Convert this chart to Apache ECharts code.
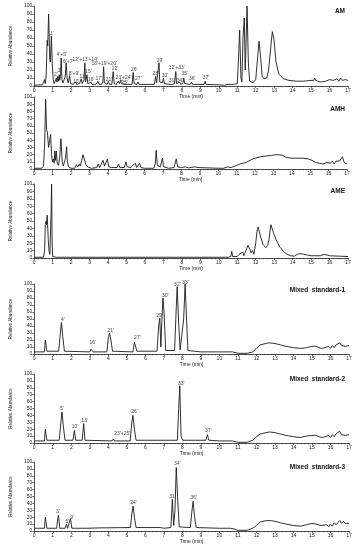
<!DOCTYPE html>
<html><head><meta charset="utf-8">
<script src="https://cdn.jsdelivr.net/npm/echarts@6/dist/echarts.min.js"></script>
<style>html,body{margin:0;padding:0;background:#fff}#c{width:357px;height:550px}</style>
</head><body><div id="c"></div>
<script>
// ---- data: [time (min), relative abundance] ----
const amTrace = [[0,1],[0.45,1.5],[0.52,3],[0.56,8],[0.6,3],[0.65,15],[0.7,57],[0.73,50],[0.78,90],[0.84,35],[0.87,30],[0.93,62],[0.98,25],[1.03,8],[1.08,3],[1.15,4],[1.2,10],[1.23,5],[1.27,12],[1.3,6],[1.35,14],[1.38,7],[1.42,12],[1.46,35],[1.5,8],[1.56,4],[1.62,6],[1.68,12],[1.73,29],[1.78,10],[1.84,4],[1.92,13],[1.97,3],[2.1,2],[2.25,5],[2.3,2],[2.45,3],[2.55,9],[2.6,3],[2.7,8],[2.74,29],[2.78,5],[2.86,14],[2.9,3],[3.0,2],[3.08,5],[3.13,2],[3.35,2],[3.45,6],[3.52,2],[3.65,2],[3.72,5],[3.76,24],[3.8,4],[3.95,2],[4.02,6],[4.08,2],[4.2,2],[4.28,18],[4.33,3],[4.45,2],[4.55,6],[4.62,3],[4.68,8],[4.72,3],[4.85,2],[4.92,4],[4.98,2],[5.3,2],[5.36,17],[5.41,3],[5.55,2],[5.62,5],[5.68,2],[6.5,2],[6.58,12],[6.63,4],[6.7,3],[6.76,29],[6.8,5],[6.95,4],[7.0,10],[7.05,3],[7.35,2],[7.42,4],[7.48,2],[7.6,3],[7.67,18],[7.71,3],[7.8,3],[7.88,5],[7.93,2],[8.05,3],[8.1,10],[8.15,3],[8.45,2],[8.52,5],[8.58,2],[9.2,2],[9.26,6],[9.3,2],[10,1.5],[10.3,1],[10.5,2],[10.8,2],[11.0,3],[11.06,30],[11.13,70],[11.2,10],[11.25,5],[11.31,60],[11.38,85],[11.43,20],[11.46,40],[11.53,100],[11.6,30],[11.67,6],[11.85,4],[12.0,8],[12.1,35],[12.18,56],[12.25,40],[12.35,12],[12.45,9],[12.6,10],[12.7,20],[12.8,45],[12.9,68],[12.98,60],[13.1,30],[13.25,15],[13.5,9],[13.8,7],[14.2,6],[14.6,6],[15.0,7],[15.15,7],[15.2,10],[15.25,7],[15.5,5],[15.8,6],[16.0,8],[16.2,7],[16.4,9],[16.5,6],[16.6,10],[16.7,7],[16.85,8],[17,7]];
const amhTrace = [[0,1],[0.4,1],[0.5,4],[0.56,30],[0.62,97],[0.67,55],[0.72,50],[0.78,30],[0.84,40],[0.89,48],[0.94,20],[0.99,10],[1.04,14],[1.08,8],[1.12,25],[1.16,12],[1.2,25],[1.25,8],[1.32,5],[1.38,15],[1.45,42],[1.52,10],[1.58,4],[1.64,4],[1.7,15],[1.76,31],[1.8,10],[1.87,3],[2.0,1],[2.2,1],[2.3,6],[2.36,3],[2.45,7],[2.5,4],[2.58,12],[2.65,20],[2.72,14],[2.8,6],[2.9,3],[3.1,1],[3.4,2],[3.48,7],[3.55,2],[3.65,3],[3.74,12],[3.82,4],[3.9,3],[3.98,14],[4.05,3],[4.2,2],[4.5,2],[4.58,7],[4.65,2],[4.9,2],[4.98,10],[5.05,3],[5.25,2],[5.35,5],[5.42,3],[5.5,8],[5.56,2],[5.65,2],[5.73,8],[5.8,2],[6.0,1],[6.5,1],[6.58,8],[6.63,26],[6.69,5],[6.85,3],[6.97,15],[7.03,3],[7.3,1],[7.6,2],[7.72,14],[7.8,3],[8.0,2],[8.2,3],[8.4,1.5],[8.7,3],[8.9,2],[9.5,1.5],[10.0,1],[10.3,1],[10.5,3],[10.6,5],[10.7,2],[10.9,4],[11.0,3],[11.2,7],[11.5,9],[11.8,13],[12.0,15],[12.3,17],[12.6,18],[12.9,19],[13.2,20],[13.5,19],[13.7,16],[14.0,15],[14.3,15],[14.6,15],[14.9,14],[15.1,12],[15.3,9],[15.5,8],[15.7,7],[15.9,9],[16.0,11],[16.1,8],[16.2,11],[16.3,7],[16.4,11],[16.5,9],[16.6,11],[16.7,10],[16.75,17],[16.85,9],[17,7]];
const ameTrace = [[0,1],[0.5,1],[0.56,10],[0.6,45],[0.64,50],[0.67,45],[0.7,58],[0.73,60],[0.76,25],[0.8,10],[0.85,5],[0.88,5],[0.91,60],[0.94,100],[0.97,20],[1.0,2],[1.2,1],[1.3,2],[1.35,1],[10.5,1],[10.65,2],[10.7,9],[10.75,2],[11.0,2],[11.1,5],[11.2,3],[11.3,8],[11.35,3],[11.45,4],[11.58,17],[11.68,12],[11.75,7],[11.82,10],[11.9,5],[12.0,20],[12.08,38],[12.13,42],[12.25,30],[12.4,18],[12.55,14],[12.65,17],[12.72,25],[12.82,45],[12.87,46],[12.95,35],[13.1,25],[13.3,15],[13.5,9],[13.7,5],[13.9,3],[14.1,2.5],[14.25,5],[14.4,6],[14.6,5],[14.8,4],[15.0,3],[15.5,3],[15.7,5],[15.75,3],[16,3],[16.5,2.5],[17,2]];
const ms1Trace = [[0,3],[0.55,3],[0.6,20],[0.63,22],[0.68,4],[1.32,4],[1.41,30],[1.47,45],[1.54,25],[1.63,4],[3.0,3],[3.06,7],[3.11,8],[3.18,3],[3.92,3],[4.01,25],[4.07,30],[4.14,20],[4.23,4],[5.33,3],[5.41,17],[5.45,19],[5.54,4],[6.63,4],[6.72,40],[6.78,51],[6.84,10],[6.88,40],[6.95,80],[7.01,60],[7.1,5],[7.58,5],[7.66,60],[7.72,96],[7.79,50],[7.88,6],[7.98,6],[8.07,50],[8.15,100],[8.21,60],[8.3,5],[8.4,4],[9,3],[10,3],[10.7,3],[11.0,1],[11.5,1],[11.8,3],[12.0,8],[12.2,13],[12.5,15],[12.7,16],[13.0,15],[13.3,13],[13.6,11],[14.0,9],[14.4,8],[14.7,9],[15.0,11],[15.2,11],[15.5,8],[15.7,9],[15.8,7],[15.9,11],[16.0,8],[16.1,12],[16.2,9],[16.3,13],[16.4,12],[16.5,16],[16.6,12],[16.7,14],[16.8,11],[16.9,13],[17,12]];
const ms2Trace = [[0,3],[0.55,3],[0.6,20],[0.63,22],[0.68,4],[1.35,4],[1.44,30],[1.5,45],[1.57,25],[1.66,4],[2.09,4],[2.17,18],[2.24,4],[2.59,4],[2.67,28],[2.74,4],[4.2,3],[4.27,6],[4.33,3],[5.18,3],[5.27,30],[5.33,40],[5.41,20],[5.5,4],[7.73,4],[7.8,50],[7.86,83],[7.93,10],[8.02,4],[9.27,4],[9.35,12],[9.43,4],[10,3],[10.7,3],[11.0,1],[11.5,1],[11.8,4],[12.0,9],[12.2,13],[12.5,15],[12.7,16],[13.0,15],[13.3,13],[13.6,11],[14.0,9],[14.4,8],[14.7,10],[15.0,11],[15.2,11],[15.5,8],[15.7,9],[15.8,7],[15.9,11],[16.0,8],[16.1,12],[16.2,9],[16.3,13],[16.4,13],[16.5,17],[16.6,12],[16.7,14],[16.8,11],[16.9,13],[17,12]];
const ms3Trace = [[0,4],[0.55,4],[0.6,20],[0.63,22],[0.68,4],[1.21,4],[1.27,18],[1.31,23],[1.38,4],[1.67,4],[1.74,10],[1.8,4],[1.89,4],[1.96,18],[2.03,4],[2.9,4],[3.5,4.5],[5.2,5],[5.27,25],[5.34,36],[5.41,20],[5.5,5],[6.8,5],[7.0,4],[7.38,5],[7.46,46],[7.53,8],[7.6,30],[7.67,92],[7.74,50],[7.83,6],[8.43,5],[8.52,30],[8.58,43],[8.66,20],[8.75,5],[10,4],[10.6,4],[10.8,3],[11.0,1],[11.5,1],[11.8,4],[12.0,8],[12.2,13],[12.5,15],[12.8,15],[13.0,14],[13.3,12],[13.6,10],[14.0,8],[14.4,7],[14.7,9],[15.0,11],[15.2,10],[15.5,8],[15.8,9],[15.9,6],[16.0,10],[16.1,7],[16.2,12],[16.3,9],[16.5,15],[16.6,11],[16.7,14],[16.8,11],[16.9,13],[17,11]];

// ---- peak labels: [time, abundance at label centre, text] ----
const amLabels = [[1.17,14.6,"2'"],[1.36,19,"3'"],[1.49,38.8,"4'+5'"],[1.84,31,"6'+7'"],[2.15,16,"8'+9'"],[2.27,5,"10'"],[2.62,11.7,"11'"],[2.76,33,"12'+13'+14'"],[2.94,18,"15'"],[3.09,7.5,"16'"],[3.5,9.6,"17'"],[3.79,28,"18'+19'+20'"],[4.05,8.3,"21'"],[4.37,21.7,"22'"],[4.84,11,"23'+24'"],[4.89,3.8,"25'"],[5.42,21,"26'"],[5.64,8.8,"27'"],[6.59,16,"28'"],[6.81,32,"29'"],[7.08,13,"30'"],[7.46,7,"31'"],[7.72,22.5,"32'+33'"],[7.9,7,"34'"],[8.16,15,"35'"],[8.56,9,"36'"],[9.31,10.4,"37'"],[0.95,66,"1'"]];
const amhLabels = [];
const ameLabels = [];
const ms1Labels = [[1.55,49,"4'"],[3.16,15.7,"16'"],[4.13,34,"21'"],[5.57,24,"27'"],[6.77,55,"29'"],[7.07,84,"30'"],[7.73,98.5,"32'"],[8.17,101.5,"33'"]];
const ms2Labels = [[1.49,50.5,"5'"],[2.2,24,"10'"],[2.72,32.7,"13'"],[4.75,13.5,"23'+25'"],[5.41,45,"26'"],[7.94,86.5,"33'"],[9.4,18,"37'"]];
const ms3Labels = [[1.27,27.4,"3'"],[1.79,13,"6'"],[2.04,19.2,"9'"],[5.36,41.3,"24'"],[7.47,50.5,"31'"],[7.72,98,"34'"],[8.61,48,"36'"]];

const panelNames = ['AM','AMH','AME','Mixed  standard-1','Mixed  standard-2','Mixed  standard-3'];
const traces = [amTrace, amhTrace, ameTrace, ms1Trace, ms2Trace, ms3Trace];
const labelSets = [amLabels, amhLabels, ameLabels, ms1Labels, ms2Labels, ms3Labels];
const timeRange = [0, 17];
const abundanceRange = [0, 100];

// ---- layout (pixels) ----
const grids = [
  {left:23, top:6,   width:325, height:80},
  {left:25, top:97,  width:322, height:72},
  {left:23, top:184, width:325, height:74},
  {left:27, top:284, width:322, height:70},
  {left:27, top:374, width:322, height:69},
  {left:27, top:462, width:322, height:69}
];
const nameTops = [8, 106, 188, 287, 376, 464];

const FONT = 'Liberation Sans, Arial, sans-serif';
const axisColor = '#222';
const option = {
  animation: false,
  backgroundColor: '#fff',
  grid: grids,
  xAxis: grids.map((g,i)=>({
    type:'value', gridIndex:i, min:timeRange[0], max:timeRange[1], interval:1,
    name:'Time (min)', nameLocation:'middle', nameGap:8,
    nameTextStyle:{fontSize:5, color:axisColor, fontFamily:FONT},
    axisLine:{onZero:false, lineStyle:{color:axisColor, width:0.8}},
    axisTick:{length:2, lineStyle:{color:axisColor, width:0.6}},
    minorTick:{show:true, splitNumber:5, length:1.2, lineStyle:{color:axisColor, width:0.5}},
    splitLine:{show:false},
    axisLabel:{fontSize:5, margin:2, color:axisColor, fontFamily:FONT}
  })),
  yAxis: grids.map((g,i)=>({
    type:'value', gridIndex:i, min:abundanceRange[0], max:abundanceRange[1], interval:10,
    name:'Relative Abundance', nameLocation:'middle', nameGap:11,
    nameTextStyle:{fontSize:4.5, color:axisColor, fontFamily:FONT},
    axisLine:{show:true, lineStyle:{color:axisColor, width:0.8}},
    axisTick:{show:true, length:2, lineStyle:{color:axisColor, width:0.6}},
    splitLine:{show:false},
    axisLabel:{fontSize:5, margin:2, color:axisColor, fontFamily:FONT}
  })),
  graphic: panelNames.map((n,i)=>({
    type:'text', right: 12, top: nameTops[i],
    style:{text:n, font:'bold 6.5px ' + FONT, fill:'#111'}
  })),
  series: []
};
traces.forEach((tr,i)=>{
  option.series.push({
    type:'line', xAxisIndex:i, yAxisIndex:i, data:tr, showSymbol:false, symbol:'none',
    lineStyle:{color:'#1a1a1a', width:0.9}, silent:true
  });
  if (labelSets[i].length) option.series.push({
    type:'scatter', xAxisIndex:i, yAxisIndex:i, data:labelSets[i], symbolSize:1, clip:false,
    itemStyle:{color:'transparent'}, silent:true,
    label:{show:true, position:'inside', formatter:p=>p.data[2], fontSize:5, color:'#111', fontFamily:FONT}
  });
});
const chart = echarts.init(document.getElementById('c'), null, {renderer:'canvas'});
chart.setOption(option);
</script></body></html>
